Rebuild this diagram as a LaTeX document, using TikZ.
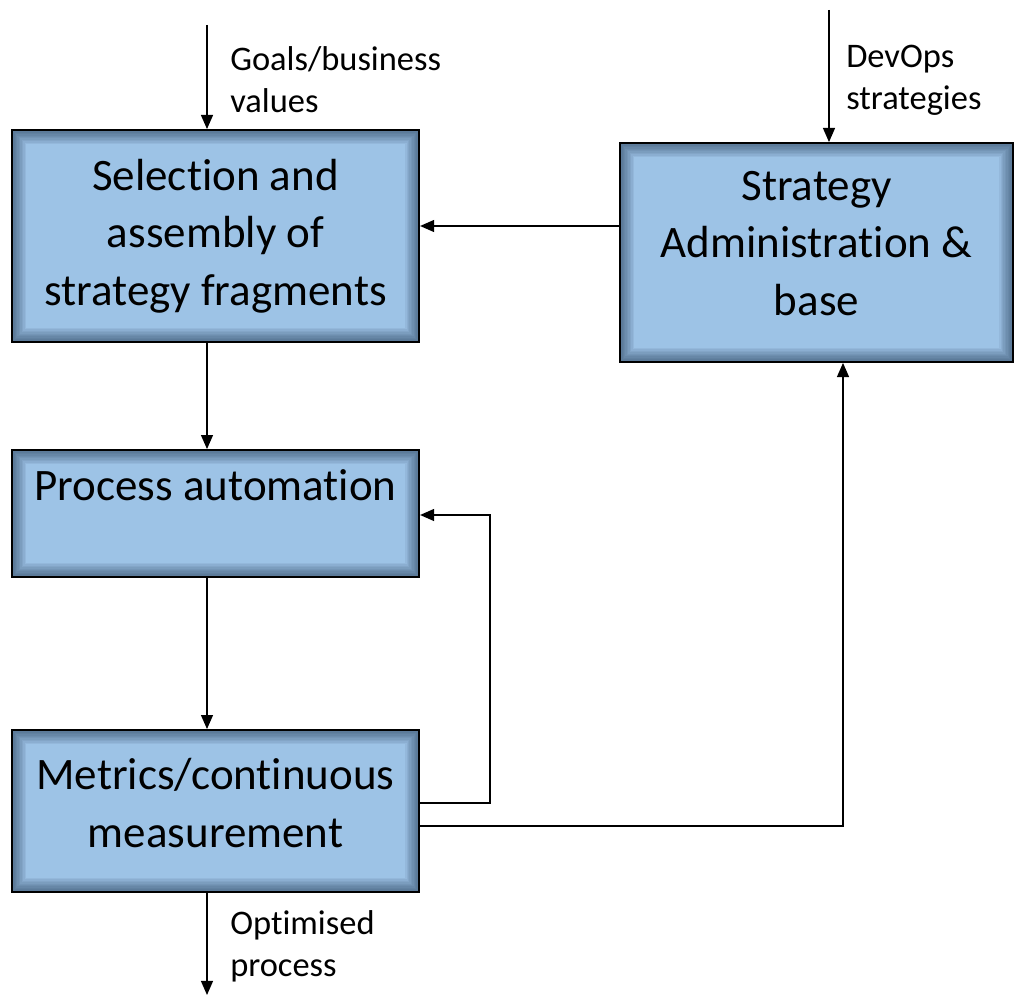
\documentclass[tikz,border=0pt]{standalone}
\usepackage{fontspec}
\setmainfont{Carlito}[Ligatures=NoCommon]
\usetikzlibrary{arrows.meta}
\definecolor{boxblue}{HTML}{9DC3E6}
\definecolor{boxedge}{HTML}{1E3550}
\begin{document}
\begin{tikzpicture}[
    x=0.025cm, y=-0.025cm,
    box/.style={draw=black, line width=1.3pt, fill=boxblue, inner sep=0pt, align=center,
        font=\fontsize{32}{41}\selectfont,
        path picture={\foreach \w in {2,4,...,20}
            \draw[boxedge, opacity=0.07, line width=\w pt] (path picture bounding box.south west) rectangle (path picture bounding box.north east);}},
    lbl/.style={anchor=west, inner sep=0pt, align=left, font=\fontsize{24.5}{30}\selectfont},
    arrow/.style={-{Triangle[length=10pt,width=8.5pt]}, line width=1pt},
]
\useasboundingbox (0,0) rectangle (1014,998);
\node[box, minimum width=10.18cm, minimum height=5.3cm] (sel) at (215.5,236) {Selection and\\assembly of\\strategy fragments};
\node[box, minimum width=9.83cm, minimum height=5.475cm, text depth=13pt] (admin) at (816.5,252.5) {Strategy\\Administration \&\\base};
\node[box, minimum width=10.18cm, minimum height=3.175cm, text depth=40pt] (auto) at (215.5,513.5) {Process automation};
\node[box, minimum width=10.18cm, minimum height=4.05cm, text depth=12pt] (metrics) at (215.5,811) {Metrics/continuous\\measurement};
\node[lbl] (goals) at (230,80) {Goals/business\\values};
\node[lbl] (devops) at (846,80) {DevOps\\strategies};
\node[lbl] (optim) at (230,946) {Optimised\\process};
\coordinate (goalsin) at (207,25);
\coordinate (devin) at (829,10);
\coordinate (loop) at (490,515);
\coordinate (out) at (207,995);
\draw[arrow] (goalsin) -- (goalsin |- sel.north);
\draw[arrow] (devin) -- (devin |- admin.north);
\draw[arrow] (admin.west |- 0,226) -- (sel.east |- 0,226);
\draw[arrow] (sel.south -| goalsin) -- (auto.north -| goalsin);
\draw[arrow] (auto.south -| goalsin) -- (metrics.north -| goalsin);
\draw[arrow] (metrics.east |- 0,803) -| (loop) -- (auto.east |- loop);
\draw[arrow] (metrics.east |- 0,826) -| (admin.south -| 843,0);
\draw[arrow] (metrics.south -| out) -- (out);
\end{tikzpicture}
\end{document}
